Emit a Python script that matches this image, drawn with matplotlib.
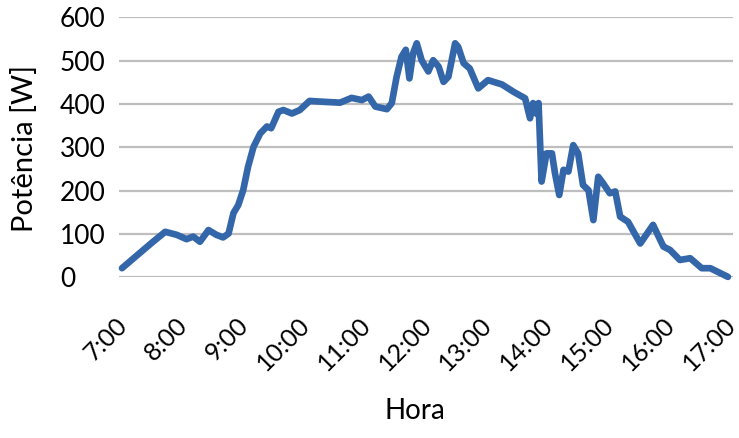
import matplotlib
matplotlib.use("Agg")
import matplotlib.pyplot as plt
from matplotlib.transforms import ScaledTranslation

hours = [7.00, 7.35, 7.51, 7.71, 7.90, 8.06, 8.17, 8.28, 8.42, 8.55, 8.66, 8.75,
         8.83, 8.91, 8.99, 9.07, 9.16, 9.27, 9.38, 9.45, 9.57, 9.65, 9.79, 9.92,
         10.08, 10.31, 10.58, 10.77, 10.94, 11.05, 11.16, 11.35, 11.43, 11.51,
         11.59, 11.66, 11.72, 11.78, 11.84, 11.92, 12.03, 12.11, 12.20, 12.28,
         12.36, 12.47, 12.52, 12.61, 12.71, 12.85, 13.01, 13.24, 13.43, 13.62,
         13.70, 13.75, 13.80, 13.84, 13.89, 13.97, 14.06, 14.11, 14.18, 14.25,
         14.33, 14.41, 14.49, 14.57, 14.66, 14.74, 14.82, 14.90, 15.01, 15.10,
         15.18, 15.31, 15.51, 15.72, 15.89, 16.00, 16.16, 16.33, 16.52, 16.66,
         16.95]
power = [21, 63, 82, 105, 98, 88, 94, 82, 109, 98, 92, 101,
         148, 167, 201, 255, 301, 332, 348, 344, 382, 386, 378, 386,
         407, 405, 403, 414, 409, 417, 394, 388, 402, 463,
         509, 525, 459, 517, 540, 501, 475, 501, 486, 451,
         463, 540, 532, 494, 482, 436, 455, 445, 428, 413,
         367, 402, 378, 402, 221, 286, 286, 240, 190, 248,
         244, 305, 286, 213, 201, 132, 232, 217, 194, 198,
         140, 128, 78, 121, 71, 63, 40, 44, 21, 21,
         1]
tick_hours = [7, 8, 9, 10, 11, 12, 13, 14, 15, 16, 17]
tick_labels = ["7:00", "8:00", "9:00", "10:00", "11:00", "12:00", "13:00",
               "14:00", "15:00", "16:00", "17:00"]
y_ticks = [0, 100, 200, 300, 400, 500, 600]

plt.rcParams['font.family'] = ['Lato', 'DejaVu Sans']

W, H = 739, 438
fig = plt.figure(figsize=(W / 100, H / 100), dpi=100)
left, right = 119, 733
top, bottom = 17.3, 277.3
ax = fig.add_axes([left / W, 1 - bottom / H, (right - left) / W, (bottom - top) / H])

ax.plot(hours, power, color='#3467AA', lw=4.8, solid_joinstyle='round',
        solid_capstyle='round', clip_on=False, zorder=3)

ax.set_xlim(6.951, 17.033)
ax.set_ylim(0, 600)
ax.set_yticks(y_ticks)
ax.yaxis.grid(True, color='#BEBEBE', lw=1.6)
ax.set_axisbelow(True)
for s in ax.spines.values():
    s.set_visible(False)
ax.tick_params(axis='both', length=0, colors='black')
ax.tick_params(axis='y', labelsize=19, pad=42.5)
ax.set_yticklabels([str(v) for v in y_ticks], ha='left')

ax.set_xticks(tick_hours)
ax.set_xticklabels(tick_labels, rotation=45, ha='right', va='top',
                   rotation_mode='anchor', fontsize=18)
ax.tick_params(axis='x', pad=26)
shift = ScaledTranslation(-7 / 100, 0, fig.dpi_scale_trans)
for lbl in ax.get_xticklabels():
    lbl.set_transform(lbl.get_transform() + shift)

fig.text(25 / W, 1 - 148 / H, 'Potência [W]', rotation=90, ha='center',
         va='center', fontsize=21)
fig.text(415 / W, 1 - 411 / H, 'Hora', ha='center', va='center', fontsize=20)

fig.savefig('out.png', dpi=100)
